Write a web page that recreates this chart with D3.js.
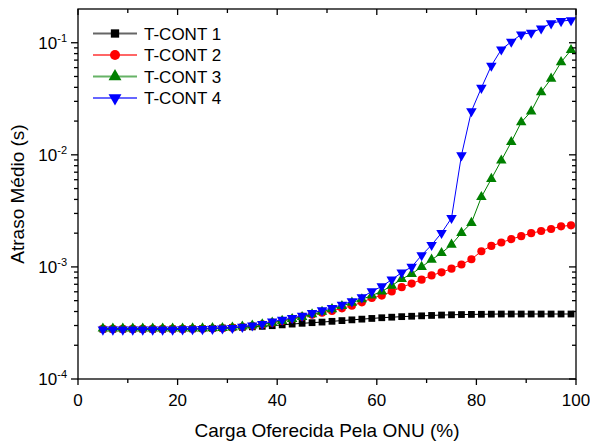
<!DOCTYPE html>
<html>
<head>
<meta charset="utf-8">
<script src="https://cdn.jsdelivr.net/npm/d3@7"></script>
<style>
  body { margin: 0; background: #fff; }
  svg text { font-family: Arial, "Liberation Sans", sans-serif; fill: #000; }
</style>
</head>
<body>
<div id="chart"></div>
<script>
// offered load (%)
var loads = [5, 7, 9, 11, 13, 15, 17, 19, 21, 23, 25, 27, 29, 31, 33, 35, 37, 39, 41, 43, 45, 47, 49,
  51, 53, 55, 57, 59, 61, 63, 65, 67, 69, 71, 73, 75, 77, 79, 81, 83, 85, 87, 89, 91, 93, 95, 97, 99];

// mean delay, in units of 1e-4 s
var tcont1 = [2.78, 2.78, 2.78, 2.78, 2.78, 2.78, 2.78, 2.79, 2.79, 2.80, 2.81, 2.83, 2.85, 2.87, 2.89, 2.92,
  2.95, 2.99, 3.04, 3.09, 3.14, 3.18, 3.22, 3.27, 3.32, 3.37, 3.42, 3.47, 3.52, 3.56, 3.60, 3.63, 3.66,
  3.69, 3.72, 3.74, 3.76, 3.77, 3.78, 3.79, 3.80, 3.80, 3.80, 3.80, 3.80, 3.80, 3.80, 3.80];
var tcont2 = [2.80, 2.80, 2.80, 2.80, 2.80, 2.80, 2.80, 2.80, 2.80, 2.81, 2.81, 2.82, 2.83, 2.87, 2.92, 2.98,
  3.07, 3.18, 3.30, 3.45, 3.60, 3.75, 3.90, 4.05, 4.27, 4.50, 4.83, 5.28, 5.55, 6.05, 6.60, 7.10, 7.70,
  8.40, 8.95, 9.65, 10.5, 11.7, 13.8, 15.4, 16.5, 17.7, 18.8, 20.0, 20.9, 21.8, 23.0, 23.5];
var tcont3 = [2.82, 2.82, 2.82, 2.82, 2.82, 2.82, 2.82, 2.82, 2.82, 2.83, 2.83, 2.84, 2.85, 2.88, 2.94, 3.00,
  3.08, 3.18, 3.30, 3.43, 3.57, 3.78, 3.98, 4.20, 4.48, 4.80, 5.15, 5.55, 6.05, 6.80, 7.80, 8.66, 10.0,
  11.6, 13.3, 15.8, 20.1, 24.7, 42, 61, 89, 130, 195, 244, 362, 478, 671, 860];
var tcont4 = [2.76, 2.76, 2.76, 2.76, 2.76, 2.76, 2.76, 2.76, 2.77, 2.78, 2.79, 2.80, 2.82, 2.85, 2.92, 3.00,
  3.10, 3.25, 3.38, 3.50, 3.67, 3.88, 4.10, 4.30, 4.60, 4.93, 5.35, 6.05, 6.70, 7.70, 8.90, 10.0, 12.7,
  15.7, 20.1, 27.3, 99, 245, 396, 624, 870, 1020, 1186, 1228, 1340, 1490, 1560, 1590];

var seriesNames = ["T-CONT 1", "T-CONT 2", "T-CONT 3", "T-CONT 4"];
var xTicks = [0, 20, 40, 60, 80, 100];
var yTickExps = [-4, -3, -2, -1];

function MainFunc() {

  var svgWidth = 590;
  var svgHeight = 441;

  var margin = { top: 9, bottom: 62, right: 14, left: 78 };

  var width = svgWidth - margin.left - margin.right;
  var height = svgHeight - margin.top - margin.bottom;

  var svg = d3.select("#chart")
    .append("svg")
    .attr("width", svgWidth)
    .attr("height", svgHeight);

  var chartGroup = svg.append("g")
    .attr("transform", `translate(${margin.left}, ${margin.top})`);

  var xLinearScale = d3.scaleLinear().domain([0, 100]).range([0, width]);
  var yLogScale = d3.scaleLog().domain([1e-4, 0.2]).range([height, 0]);

  var styles = [
    { color: "#000000", symbol: d3.symbolSquare, size: 46, rotate: 0 },
    { color: "#ff0000", symbol: d3.symbolCircle, size: 52, rotate: 0 },
    { color: "#008000", symbol: d3.symbolTriangle, size: 48, rotate: 0 },
    { color: "#0000ff", symbol: d3.symbolTriangle, size: 48, rotate: 180 }
  ];

  var allSeries = [tcont1, tcont2, tcont3, tcont4].map(function(vals) {
    return vals.map(function(v, i) { return { x: loads[i], y: v * 1e-4 }; });
  });

  var line = d3.line()
    .x(d => xLinearScale(d.x))
    .y(d => yLogScale(d.y));

  // series
  allSeries.forEach(function(data, k) {
    var st = styles[k];
    var g = chartGroup.append("g");
    g.append("path")
      .datum(data)
      .attr("fill", "none")
      .attr("stroke", st.color)
      .attr("stroke-width", 1)
      .attr("d", line);
    g.selectAll("path.mk")
      .data(data)
      .enter()
      .append("path")
      .classed("mk", true)
      .attr("d", d3.symbol().type(st.symbol).size(st.size))
      .attr("fill", st.color)
      .attr("transform", d => `translate(${xLinearScale(d.x)}, ${yLogScale(d.y)}) rotate(${st.rotate})`);
  });

  // minor y ticks
  var yMinor = [];
  yTickExps.forEach(function(e) {
    for (var m = 2; m <= 9; m++) {
      var v = m * Math.pow(10, e);
      if (v < 0.2) yMinor.push(v);
    }
  });
  var yMajor = yTickExps.map(e => Math.pow(10, e));
  var xMinor = d3.range(10, 100, 20);

  var axisG = chartGroup.append("g")
    .attr("stroke", "#000")
    .attr("stroke-width", 1.3);

  // left (outward) and right (inward)
  yMajor.forEach(function(v) {
    var y = yLogScale(v);
    axisG.append("line").attr("x1", -7).attr("x2", 0).attr("y1", y).attr("y2", y);
    axisG.append("line").attr("x1", width - 7).attr("x2", width).attr("y1", y).attr("y2", y);
  });
  yMinor.forEach(function(v) {
    var y = yLogScale(v);
    axisG.append("line").attr("x1", -4).attr("x2", 0).attr("y1", y).attr("y2", y);
    axisG.append("line").attr("x1", width - 4).attr("x2", width).attr("y1", y).attr("y2", y);
  });

  // bottom (outward) and top (inward)
  xTicks.forEach(function(v) {
    var x = xLinearScale(v);
    axisG.append("line").attr("x1", x).attr("x2", x).attr("y1", height).attr("y2", height + 6);
    axisG.append("line").attr("x1", x).attr("x2", x).attr("y1", 0).attr("y2", 6);
  });
  xMinor.forEach(function(v) {
    var x = xLinearScale(v);
    axisG.append("line").attr("x1", x).attr("x2", x).attr("y1", height).attr("y2", height + 4);
    axisG.append("line").attr("x1", x).attr("x2", x).attr("y1", 0).attr("y2", 4);
  });

  axisG.append("rect")
    .attr("x", 0).attr("y", 0)
    .attr("width", width).attr("height", height)
    .attr("fill", "none");

  // tick labels
  chartGroup.selectAll("text.xlab")
    .data(xTicks)
    .enter()
    .append("text")
    .classed("xlab", true)
    .attr("x", d => xLinearScale(d))
    .attr("y", height + 27)
    .attr("text-anchor", "middle")
    .attr("font-size", "17px")
    .text(d => d);

  yTickExps.forEach(function(e) {
    var t = chartGroup.append("text")
      .attr("x", -11)
      .attr("y", yLogScale(Math.pow(10, e)) + 6)
      .attr("text-anchor", "end")
      .attr("font-size", "17px");
    t.append("tspan").text("10");
    t.append("tspan")
      .attr("dy", -7)
      .attr("font-size", "11px")
      .text(e);
  });

  // axis titles
  svg.append("text")
    .attr("x", margin.left + width / 2)
    .attr("y", 437)
    .attr("text-anchor", "middle")
    .attr("font-size", "19px")
    .text("Carga Oferecida Pela ONU (%)");

  svg.append("text")
    .attr("transform", `translate(24, ${margin.top + height / 2}) rotate(-90)`)
    .attr("text-anchor", "middle")
    .attr("font-size", "19px")
    .text("Atraso Médio (s)");

  // legend
  var legend = svg.append("g");
  seriesNames.forEach(function(name, k) {
    var st = styles[k];
    var y = 33.5 + k * 21.5;
    legend.append("line")
      .attr("x1", 93).attr("x2", 137)
      .attr("y1", y).attr("y2", y)
      .attr("stroke", st.color)
      .attr("stroke-opacity", 0.6)
      .attr("stroke-width", 2);
    legend.append("path")
      .attr("d", d3.symbol().type(st.symbol).size(st.size * 1.5))
      .attr("fill", st.color)
      .attr("transform", `translate(115, ${y}) rotate(${st.rotate})`);
    legend.append("text")
      .attr("x", 144)
      .attr("y", y + 6)
      .attr("font-size", "17px")
      .text(name);
  });
}

MainFunc();
</script>
</body>
</html>
